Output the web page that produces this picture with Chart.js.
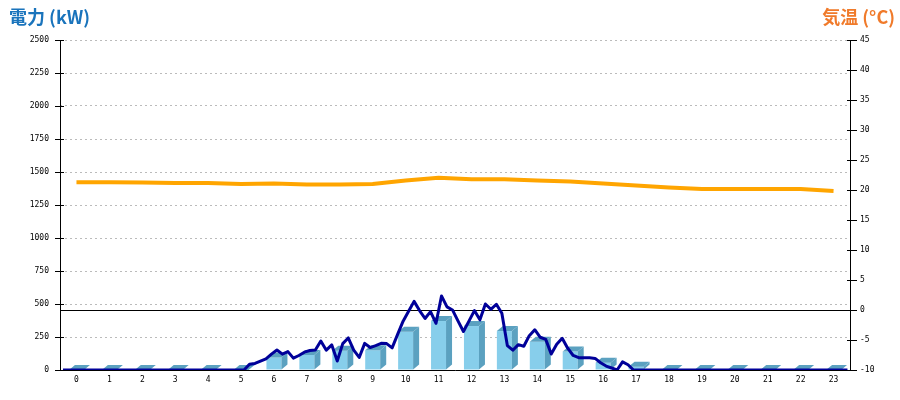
<!DOCTYPE html>
<html lang="ja">

<head>
  <meta charset="UTF-8">
  <title>電力・気温</title>
  <script src="https://cdn.jsdelivr.net/npm/chart.js"></script>
  <style>
    body { margin: 0; background: #fff; }
    #grafico { display: block; }
  </style>
</head>

<body>
  <canvas id="grafico" width="900" height="400"></canvas>

<script>
  // horas do dia (eixo x)
  const horas = ['0','1','2','3','4','5','6','7','8','9','10','11','12','13','14','15','16','17','18','19','20','21','22','23'];

  // barras: energia por hora (kW)
  const energiaHora = [0, 0, 0, 0, 0, 0, 95, 114, 146, 150, 290, 371, 333, 295, 214, 140, 55, 25, 0, 0, 0, 0, 0, 0];

  // linha azul: potencia a cada 10 minutos (kW), 144 pontos
  const potencia10min = [
    0, 0, 0, 0, 0, 0, 0, 0, 0, 0, 0, 0,
    0, 0, 0, 0, 0, 0, 0, 0, 0, 0, 0, 0,
    0, 0, 0, 0, 0, 0, 0, 0, 0, 0, 43, 50,
    68, 85, 120, 151, 120, 139, 90, 110, 135, 148, 152, 220,
    150, 190, 68, 200, 243, 150, 95, 202, 170, 185, 202, 200,
    168, 270, 370, 445, 520, 450, 390, 442, 354, 561, 478, 455,
    372, 292, 370, 450, 380, 500, 460, 498, 430, 185, 150, 192,
    180, 260, 305, 248, 232, 121, 195, 240, 165, 110, 93, 93,
    92, 88, 55, 30, 15, 0, 62, 40, 0, 0, 0, 0,
    0, 0, 0, 0, 0, 0, 0, 0, 0, 0, 0, 0,
    0, 0, 0, 0, 0, 0, 0, 0, 0, 0, 0, 0,
    0, 0, 0, 0, 0, 0, 0, 0, 0, 0, 0, 0
  ];

  // linha laranja: temperatura por hora (°C)
  const temperatura = [21.3, 21.3, 21.25, 21.15, 21.15, 21.0, 21.1, 20.9, 20.9, 21.0, 21.6, 22.05,
                       21.8, 21.8, 21.6, 21.4, 21.1, 20.75, 20.4, 20.15, 20.15, 20.15, 20.15, 19.85];

  const fonteTick = { family: '"DejaVu Sans Mono", monospace', size: 8 };

  function semVirgula(v) { return String(v); }

  // barras em 3D + eixos + titulos
  const plugin3D = {
    id: 'barras3d',
    beforeDatasetsDraw(chart) {
      const ctx = chart.ctx;
      const a = chart.chartArea;
      ctx.save();
      ctx.strokeStyle = '#000';
      ctx.lineWidth = 1;
      ctx.beginPath();
      ctx.moveTo(a.left + 0.5, a.top);
      ctx.lineTo(a.left + 0.5, a.bottom + 0.5);
      ctx.lineTo(a.right + 0.5, a.bottom + 0.5);
      ctx.moveTo(a.right + 0.5, a.top);
      ctx.lineTo(a.right + 0.5, a.bottom);
      chart.scales.y.ticks.forEach(function (t) {
        const py = Math.round(chart.scales.y.getPixelForValue(t.value)) + 0.5;
        ctx.moveTo(a.left - 5, py);
        ctx.lineTo(a.left + 4, py);
      });
      chart.scales.yr.ticks.forEach(function (t) {
        const py = Math.round(chart.scales.yr.getPixelForValue(t.value)) + 0.5;
        ctx.moveTo(a.right - 3, py);
        ctx.lineTo(a.right + 7, py);
      });
      ctx.stroke();
      ctx.restore();
    },
    afterDatasetDraw(chart, args) {
      if (args.meta.type !== 'bar') return;
      const ctx = chart.ctx;
      const dx = 6, dy = 5;
      ctx.save();
      args.meta.data.forEach(function (bar) {
        const p = bar.getProps(['x', 'y', 'base', 'width'], true);
        const l = p.x - p.width / 2, r = p.x + p.width / 2;
        const topo = p.y, base = p.base;
        ctx.fillStyle = '#87ceeb';
        ctx.fillRect(l, topo, p.width, base - topo);
        ctx.fillStyle = '#5ba1c0';
        ctx.beginPath();
        ctx.moveTo(r, topo);
        ctx.lineTo(r + dx, topo - dy);
        ctx.lineTo(r + dx, base - dy);
        ctx.lineTo(r, base);
        ctx.closePath();
        ctx.fill();
        ctx.beginPath();
        ctx.moveTo(l, topo);
        ctx.lineTo(l + dx, topo - dy);
        ctx.lineTo(r + dx, topo - dy);
        ctx.lineTo(r, topo);
        ctx.closePath();
        ctx.fill();
      });
      ctx.restore();
    },
    afterDraw(chart) {
      const ctx = chart.ctx;
      ctx.save();
      ctx.font = 'bold 18px "Noto Sans CJK JP", sans-serif';
      ctx.textBaseline = 'middle';
      ctx.fillStyle = '#1a74bc';
      ctx.textAlign = 'left';
      ctx.fillText('電力 (kW)', 9, 17);
      ctx.fillStyle = '#f07a2a';
      ctx.textAlign = 'right';
      ctx.fillText('気温 (°C)', 895, 17);
      ctx.restore();
    }
  };

  const config = {
    type: 'bar',
    data: {
      labels: horas,
      datasets: [
        {
          type: 'line',
          label: '気温',
          data: temperatura,
          xAxisID: 'x',
          yAxisID: 'yr',
          borderColor: '#ffa500',
          borderWidth: 4,
          pointRadius: 0,
          order: 0
        },
        {
          type: 'line',
          label: '電力',
          data: potencia10min.map(function (v, i) { return { x: i / 6, y: v }; }),
          xAxisID: 'xt',
          yAxisID: 'y',
          borderColor: '#000099',
          borderWidth: 3,
          borderJoinStyle: 'round',
          pointRadius: 0,
          order: 1
        },
        {
          type: 'bar',
          label: '電力量',
          data: energiaHora,
          xAxisID: 'x',
          yAxisID: 'y',
          backgroundColor: 'rgba(0,0,0,0)',
          grouped: false,
          barThickness: 15,
          order: 2
        }
      ]
    },
    options: {
      responsive: false,
      animation: false,
      devicePixelRatio: 1,
      layout: { padding: { top: 40, left: 0, right: 0, bottom: 0 } },
      plugins: { legend: { display: false }, tooltip: { enabled: false } },
      scales: {
        x: {
          type: 'category',
          offset: true,
          grid: { display: false, drawTicks: false },
          border: { display: false },
          ticks: { font: fonteTick, color: '#000', padding: 5, maxRotation: 0, autoSkip: false },
          afterFit: function (s) { s.height = 30; }
        },
        xt: {
          type: 'linear',
          display: false,
          offset: false,
          min: -0.09,
          max: 23.91
        },
        y: {
          position: 'left',
          min: 0,
          max: 2500,
          ticks: { stepSize: 250, font: fonteTick, color: '#000', padding: 11, callback: semVirgula },
          grid: { color: '#bbbbbb', lineWidth: 1, drawTicks: false },
          border: { display: false, dash: [2, 3] },
          afterFit: function (s) { s.width = 60; }
        },
        yr: {
          position: 'right',
          min: -10,
          max: 45,
          ticks: { stepSize: 5, font: fonteTick, color: '#000', padding: 10, callback: semVirgula },
          grid: {
            drawTicks: false,
            color: function (c) { return c.tick && c.tick.value === 0 ? '#000' : 'rgba(0,0,0,0)'; }
          },
          border: { display: false },
          afterFit: function (s) { s.width = 50; }
        }
      }
    },
    plugins: [plugin3D]
  };

  let grafico = new Chart(document.getElementById('grafico'), config);
</script>
</body>

</html>
